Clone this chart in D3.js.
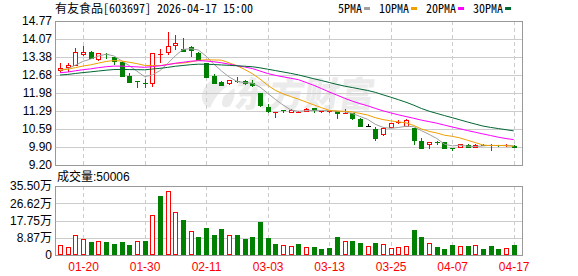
<!DOCTYPE html>
<html>
<head>
<meta charset="utf-8">
<script src="https://cdn.jsdelivr.net/npm/d3@7"></script>
<style>
body{margin:0;background:#fff}
</style>
</head>
<body>
<script>
// trading days shown
const dates = [
  "2026-01-15","2026-01-16","2026-01-19","2026-01-20","2026-01-21","2026-01-22","2026-01-23","2026-01-26","2026-01-27","2026-01-28",
  "2026-01-29","2026-01-30","2026-02-02","2026-02-03","2026-02-04","2026-02-05","2026-02-06","2026-02-09","2026-02-10","2026-02-11",
  "2026-02-12","2026-02-13","2026-02-24","2026-02-25","2026-02-26","2026-02-27","2026-03-02","2026-03-03","2026-03-04","2026-03-05",
  "2026-03-06","2026-03-09","2026-03-10","2026-03-11","2026-03-12","2026-03-13","2026-03-16","2026-03-17","2026-03-18","2026-03-19",
  "2026-03-20","2026-03-23","2026-03-24","2026-03-25","2026-03-26","2026-03-27","2026-03-30","2026-03-31","2026-04-01","2026-04-02",
  "2026-04-03","2026-04-07","2026-04-08","2026-04-09","2026-04-10","2026-04-13","2026-04-14","2026-04-15","2026-04-16","2026-04-17"
];
const open = [
  12.87,12.98,13.07,13.49,13.57,13.29,13.48,13.36,13.20,12.64,
  12.45,12.39,12.36,13.49,13.56,13.84,13.68,13.76,13.55,13.14,
  12.64,12.40,12.39,12.45,12.44,12.37,11.98,11.44,11.23,11.31,
  11.25,11.24,11.29,11.39,11.26,11.25,11.28,11.21,11.20,10.97,
  10.71,10.59,10.39,10.66,10.85,10.71,10.62,10.14,10.00,10.09,
  10.09,9.85,9.91,9.98,9.91,9.99,9.98,9.96,9.94,9.95
];
const high = [
  13.16,13.13,13.71,13.80,13.61,13.55,13.54,13.38,13.22,12.74,
  12.46,12.51,13.55,13.67,14.33,14.24,14.13,13.79,13.58,13.16,
  12.72,12.45,12.50,12.59,12.50,12.47,12.00,11.57,11.26,11.33,
  11.37,11.30,11.39,11.40,11.30,11.30,11.29,11.35,11.22,11.00,
  10.77,10.68,10.68,10.84,10.94,10.96,10.64,10.24,10.10,10.14,
  10.10,9.86,10.01,10.03,10.00,10.02,10.01,9.98,10.00,9.96
];
const low = [
  12.77,12.81,13.03,13.43,13.30,13.24,13.30,13.08,12.61,12.36,
  12.19,12.16,12.23,13.13,13.46,13.66,13.58,13.37,13.22,12.57,
  12.32,12.24,12.31,12.36,12.28,12.23,11.44,11.21,11.00,11.20,
  11.20,11.20,11.28,11.20,11.21,11.20,10.97,11.20,10.94,10.68,
  10.71,10.14,10.33,10.64,10.79,10.69,9.97,9.83,9.83,9.99,
  9.82,9.73,9.88,9.85,9.90,9.92,9.74,9.90,9.90,9.84
];
const close = [
  12.95,13.07,13.56,13.57,13.35,13.52,13.43,13.23,12.65,12.41,
  12.43,12.37,13.53,13.51,13.80,13.92,13.60,13.66,13.26,12.62,
  12.37,12.28,12.48,12.43,12.36,12.28,11.53,11.28,11.25,11.27,
  11.33,11.26,11.38,11.31,11.28,11.27,11.20,11.23,11.00,10.70,
  10.71,10.23,10.64,10.81,10.87,10.93,10.17,9.86,10.09,10.07,
  9.84,9.83,10.00,9.90,9.99,9.97,9.95,9.94,9.96,9.88
];
// volume in 万手
const volume = [
  5.0,3.9,10.1,8.1,6.7,7.2,6.7,5.7,6.7,5.1,
  7.2,7.4,20.4,30.4,32.8,22.1,18.0,12.3,9.3,13.9,
  10.3,13.4,10.1,10.3,8.2,9.3,17.0,8.7,5.7,5.0,
  4.6,5.7,4.1,4.1,3.1,3.6,9.3,7.2,7.2,6.2,
  4.6,6.2,5.7,3.6,4.1,4.6,12.9,9.3,6.2,4.1,
  3.1,5.1,4.6,4.6,5.1,3.1,4.6,3.1,3.6,5.0006
];
// closes before the window, estimated so the MA lines start where the picture shows
const priorCloses = [
  12.40,12.45,12.52,12.48,12.55,12.50,12.46,12.53,12.56,12.55,
  12.55,12.60,12.72,12.68,12.62,12.70,12.75,12.66,12.70,12.72,
  12.75,12.92,12.95,12.88,12.85,12.80,12.88,12.83,12.89
];
const priceTicks = [9.20,9.90,10.59,11.29,11.98,12.68,13.38,14.07,14.77];
const volTicks = [0,8.87,17.75,26.62,35.50];
const xTickLabels = ["01-20","01-30","02-11","03-03","03-13","03-25","04-07","04-17"];
const maPeriods = [5,10,20,30];
const maNames = ["5PMA","10PMA","20PMA","30PMA"];

const maColors = ["#a0a0a0","#f0a000","#ff00ff","#006633"];
const RED = "#ff0000", GREEN = "#008000";
const left = 55, right = 522;
const numFont = "Arial, 'Liberation Sans', 'Noto Sans CJK SC', sans-serif";
const cnFont = "'Noto Sans Mono CJK SC', 'Noto Sans CJK SC', monospace";

const svg = d3.select("body").append("svg").attr("width",578).attr("height",276)
  .style("display","block");

const x = d3.scalePoint().domain(dates).range([60, 513.7]);
const y = d3.scaleLinear().domain([9.20,14.77]).range([165,21]);
const yv = d3.scaleLinear().domain([0,35.50]).range([255,186]);
const tickDates = dates.filter(d => xTickLabels.includes(d.slice(5)));

// watermark
const wm = svg.append("g").attr("fill","#ebebeb");
wm.append("path")
  .attr("d","M212,80 C200,88 198,104 210,108 C214,100 218,92 228,86 C222,84 216,82 212,80 Z M224,96 C220,104 222,110 230,106 C234,100 236,94 234,88 Z");
wm.append("text").attr("x",234).attr("y",107)
  .attr("font-family","'Noto Sans CJK SC', sans-serif").attr("font-weight",900)
  .attr("font-size",35).attr("transform","skewX(-8) translate(14,0)")
  .text("东方财富");

// gridlines + axes, price panel
const gy = svg.append("g").attr("transform",`translate(${left},0)`)
  .call(d3.axisLeft(y).tickValues(priceTicks).tickSize(-(right-left)).tickPadding(3)
    .tickFormat(d3.format(".2f")));
gy.select(".domain").remove();
gy.selectAll("line").attr("stroke","#cccccc").attr("shape-rendering","crispEdges");
gy.selectAll("text").attr("font-family",numFont).attr("font-size",12).attr("fill","#000");

const gv = svg.append("g").attr("transform",`translate(${left},0)`)
  .call(d3.axisLeft(yv).tickValues(volTicks).tickSize(-(right-left)).tickPadding(3)
    .tickFormat(d => d === 0 ? "0" : d.toFixed(2) + "万"));
gv.select(".domain").remove();
gv.selectAll("line").attr("stroke","#cccccc").attr("shape-rendering","crispEdges");
gv.selectAll("text").attr("font-family",numFont).attr("font-size",12).attr("fill","#000");

// vertical dashed grid
[[21,165],[186,255]].forEach(([t,b]) => {
  svg.append("g").selectAll("line").data(tickDates).join("line")
    .attr("x1",d => Math.round(x(d))+0.5).attr("x2",d => Math.round(x(d))+0.5)
    .attr("y1",t).attr("y2",b)
    .attr("stroke","#cccccc").attr("stroke-dasharray","4,3");
});

const gx = svg.append("g").attr("transform","translate(0,255)")
  .call(d3.axisBottom(x).tickValues(tickDates).tickSize(0).tickPadding(7)
    .tickFormat(d => d.slice(5)));
gx.select(".domain").remove();
gx.selectAll("text").attr("font-family",numFont).attr("font-size",12).attr("fill",RED);

// moving averages
const allCloses = priorCloses.concat(close);
const offset = priorCloses.length;
const maData = maPeriods.map(n => close.map((c,i) =>
  d3.mean(allCloses.slice(i + offset - n + 1, i + offset + 1))));

const idx = d3.range(dates.length);

// candles
const px = i => Math.round(x(dates[i]));
const cg = svg.append("g").attr("shape-rendering","crispEdges");
const colorOf = i => close[i] > open[i] ? RED : (close[i] < open[i] ? GREEN : "#000");

cg.selectAll(".wick").data(idx).join("line").attr("class","wick")
  .attr("x1",i => px(i)+0.5).attr("x2",i => px(i)+0.5)
  .attr("y1",i => y(high[i])).attr("y2",i => y(low[i]))
  .attr("stroke",colorOf);

idx.forEach(i => {
  const yt = y(Math.max(open[i],close[i])), yb = y(Math.min(open[i],close[i]));
  if (yb - yt < 1.5) {
    cg.append("line").attr("x1",px(i)-2).attr("x2",px(i)+3)
      .attr("y1",Math.round(yt)+0.5).attr("y2",Math.round(yt)+0.5)
      .attr("stroke",colorOf(i));
  } else if (close[i] > open[i]) {
    cg.append("rect").attr("x",px(i)-1.5).attr("width",4)
      .attr("y",Math.round(yt)+0.5).attr("height",Math.round(yb)-Math.round(yt))
      .attr("fill","#fff").attr("stroke",RED);
  } else {
    cg.append("rect").attr("x",px(i)-2).attr("width",5)
      .attr("y",Math.round(yt)).attr("height",Math.round(yb)-Math.round(yt)+1)
      .attr("fill",GREEN);
  }
});

// MA lines
const line = d3.line().x((v,i) => x(dates[i])).y(v => y(v));
maData.forEach((arr,k) => {
  svg.append("path").datum(arr).attr("d",line)
    .attr("fill","none").attr("stroke",maColors[k]).attr("stroke-width",1);
});

// volume bars
const volUp = i => close[i] >= (i === 0 ? priorCloses[offset-1] : close[i-1]);
const vg = svg.append("g").attr("shape-rendering","crispEdges");
idx.forEach(i => {
  const top = Math.round(yv(volume[i]));
  if (volUp(i)) {
    vg.append("rect").attr("x",px(i)-1.5).attr("width",4)
      .attr("y",top+0.5).attr("height",254-top)
      .attr("fill","#fff").attr("stroke",RED);
  } else {
    vg.append("rect").attr("x",px(i)-2).attr("width",5)
      .attr("y",top).attr("height",255-top).attr("fill",GREEN);
  }
});

// panel borders
[[21,165],[186,255]].forEach(([t,b]) => {
  svg.append("rect").attr("x",left+0.5).attr("y",t+0.5)
    .attr("width",right-left).attr("height",b-t)
    .attr("fill","none").attr("stroke","#999").attr("shape-rendering","crispEdges");
});

// title
svg.append("text").attr("x",55).attr("y",13)
  .attr("font-family",cnFont).attr("font-size",12).attr("fill","#000")
  .text("有友食品[603697] 2026-04-17 15:00");

// legend
let lx = 338;
maNames.forEach((name,k) => {
  const t = svg.append("text").attr("x",lx).attr("y",13)
    .attr("font-family",cnFont).attr("font-size",12).attr("fill","#000").text(name);
  const w = t.node().getComputedTextLength();
  svg.append("rect").attr("x",lx+w+2).attr("y",7).attr("width",6).attr("height",3)
    .attr("fill",maColors[k]);
  lx += w + 17;
});

// volume title
svg.append("text").attr("x",57).attr("y",181)
  .attr("font-family",numFont).attr("font-size",12).attr("fill","#000")
  .text("成交量:" + Math.round(volume[volume.length-1]*10000));
</script>
</body>
</html>
